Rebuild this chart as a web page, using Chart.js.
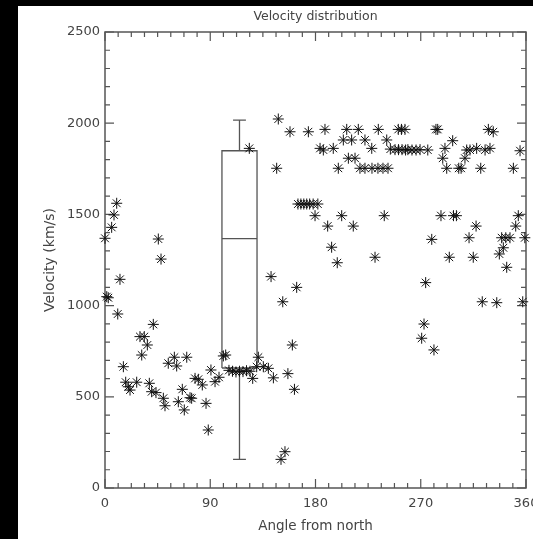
<!DOCTYPE html>
<html>
<head>
<meta charset="utf-8">
<script src="https://cdn.jsdelivr.net/npm/chart.js@4.4.1/dist/chart.umd.min.js"></script>
<style>
  html, body { margin: 0; padding: 0; background: #000; }
  #wrap { position: absolute; left: 18px; top: 6px; width: 515px; height: 533px; background: #fff; }
</style>
</head>
<body>
<div id="wrap"><canvas id="chart" width="515" height="533"></canvas></div>
<script>
// angle from north (deg) and velocity (km/s) for each event
const angles = [
  0, 1.5, 2.8, 5.7, 7.7, 10.0, 10.9, 12.8, 15.7, 17.7, 19.9, 21.4, 27.1, 29.9, 31.4, 33.6,
  36.2, 37.9, 39.9, 41.3, 43.6, 45.6, 47.9, 49.9, 51.3, 54.1, 59.3, 61.3, 62.7, 66.1, 67.8,
  69.9, 72.7, 74.1, 77.0, 79.8, 83.2, 86.4, 88.3, 90.6, 94.1, 97.5, 101.2, 103.2, 106, 109,
  112, 115, 118, 121, 124, 123.4, 126.3, 129.7, 131.1, 135.4, 139.7, 142.0, 144.0, 146.8,
  148.2, 150.5, 152.0, 153.9, 156.4, 158.2, 160.2, 162.0, 163.9, 165, 167.5, 170, 172.5,
  175, 178, 182, 173.9, 179.6, 183.9, 186.7, 188.1, 190.4, 193.8, 195.2, 198.6, 199.5,
  202.4, 203.8, 206.7, 208.1, 210.9, 212.3, 213.8, 216.6, 218, 222.3, 228.3, 233.4, 237.7,
  242, 222.3, 228.1, 230.9, 233.7, 238.8, 240.9, 244, 248, 251, 254, 257, 259, 262.5, 266,
  269.4, 276, 250.8, 253.5, 256.5, 270.8, 272.8, 274.2, 279.4, 281.3, 283, 284.5, 287.3,
  288.8, 290.7, 292.2, 294.4, 297.3, 298, 300.5, 302.5, 304.5, 307.8, 309.3, 311.3, 312.1,
  314.9, 317.3, 317.8, 321.3, 322.6, 325, 327.8, 329.2, 332, 335, 337.2, 339.2, 340.6,
  342.7, 346.3, 343.5, 349.2, 351.2, 353.4, 354.9, 357.2, 359
];
const velocities = [
  1369, 1049, 1043, 1429, 1497, 1561, 954, 1144, 665, 580, 555, 537, 580, 830, 729, 830,
  784, 574, 528, 897, 523, 1365, 1255, 492, 451, 684, 717, 669, 473, 541, 428,
  717, 495, 492, 601, 596, 565, 464, 318, 647, 583, 607, 724, 729, 645, 640,
  636, 640, 638, 643, 640, 1862, 601, 665, 717, 665, 656, 1159, 604, 1753,
  2023, 157, 1021, 199, 627, 1953, 784, 541, 1100, 1557, 1557, 1557, 1557,
  1557, 1557, 1557, 1953, 1493, 1862, 1853, 1966, 1436, 1320, 1862, 1235, 1753,
  1493, 1908, 1966, 1808, 1908, 1436, 1808, 1966, 1753, 1753, 1753, 1753, 1753,
  1753, 1908, 1862, 1265, 1966, 1493, 1908, 1858, 1855, 1855, 1855, 1853, 1855, 1853, 1853,
  1855, 1853, 1966, 1966, 1966, 821, 899, 1126, 1363, 757, 1966, 1966, 1493,
  1808, 1862, 1753, 1265, 1904, 1493, 1493, 1753, 1753, 1808, 1853, 1372, 1853,
  1265, 1436, 1862, 1753, 1021, 1853, 1966, 1862, 1953, 1016, 1283, 1372, 1317,
  1372, 1372, 1210, 1753, 1436, 1493, 1849, 1021, 1372
];

// box-and-whisker summary: min, lower quartile, median, upper quartile, max
const boxStats = [157, 658, 1367, 1849, 2017];
const boxCenter = 115;
const boxHalf = 15;
const capHalf = 5.5;

const xTicks = [0, 90, 180, 270, 360];
const yTicks = [0, 500, 1000, 1500, 2000, 2500];
const titleText = "Velocity distribution";

const axisColor = "#555";
const textColor = "#444";
const fontFamily = "'DejaVu Sans', sans-serif";

const [vMin, q1, med, q3, vMax] = boxStats;
const xl = boxCenter - boxHalf, xr = boxCenter + boxHalf;

function boxLine(points) {
  return {
    type: "scatter",
    data: points.map(p => ({ x: p[0], y: p[1] })),
    showLine: true,
    borderColor: axisColor,
    borderWidth: 1.3,
    pointRadius: 0,
    fill: false,
    order: 1,
  };
}

const stars = angles.map((a, i) => ({ x: a, y: velocities[i] }));

// frame, inward ticks on all four sides, and the title centred over the plot
const frameTicks = {
  id: "frameTicks",
  beforeDatasetsDraw(chart) {
    const { ctx, chartArea: a, scales: { x, y } } = chart;
    ctx.save();
    ctx.strokeStyle = axisColor;
    ctx.lineWidth = 1.5;
    ctx.strokeRect(a.left, a.top, a.right - a.left, a.bottom - a.top);
    ctx.lineWidth = 1.2;
    ctx.beginPath();
    for (let i = 0; i <= 32; i++) {
      const px = x.getPixelForValue(i * 11.25);
      const len = i % 8 === 0 ? 9 : 5;
      ctx.moveTo(px, a.bottom); ctx.lineTo(px, a.bottom - len);
      ctx.moveTo(px, a.top); ctx.lineTo(px, a.top + len);
    }
    for (let i = 0; i <= 25; i++) {
      const py = y.getPixelForValue(i * 100);
      const len = i % 5 === 0 ? 9 : 5;
      ctx.moveTo(a.left, py); ctx.lineTo(a.left + len, py);
      ctx.moveTo(a.right, py); ctx.lineTo(a.right - len, py);
    }
    ctx.stroke();

    ctx.fillStyle = textColor;
    ctx.font = "12.5px " + fontFamily;
    ctx.textAlign = "center";
    ctx.textBaseline = "middle";
    ctx.fillText(titleText, (a.left + a.right) / 2, 11);
    ctx.restore();
  },
};

function fixBox(size, horizontal) {
  return function (s) {
    if (horizontal) s.height = size; else s.width = size;
    s.paddingLeft = 0; s.paddingRight = 0; s.paddingTop = 0; s.paddingBottom = 0;
  };
}

new Chart(document.getElementById("chart"), {
  type: "scatter",
  data: {
    datasets: [
      {
        data: stars,
        pointStyle: "star",
        pointRadius: 5.5,
        pointBorderWidth: 1,
        borderColor: "#111",
        backgroundColor: "#111",
        clip: false,
        order: 0,
      },
      boxLine([[xl, q1], [xl, q3], [xr, q3], [xr, q1], [xl, q1]]),
      boxLine([[xl, med], [xr, med]]),
      boxLine([[boxCenter, q3], [boxCenter, vMax], [boxCenter - capHalf, vMax], [boxCenter + capHalf, vMax]]),
      boxLine([[boxCenter, q1], [boxCenter, vMin], [boxCenter - capHalf, vMin], [boxCenter + capHalf, vMin]]),
    ],
  },
  options: {
    responsive: false,
    animation: false,
    devicePixelRatio: 1,
    layout: { padding: { top: 26, right: 7, left: 0, bottom: 0 } },
    plugins: {
      legend: { display: false },
      tooltip: { enabled: false },
      title: { display: false },
    },
    scales: {
      x: {
        type: "linear",
        min: 0,
        max: 360,
        afterFit: fixBox(51, true),
        afterBuildTicks: s => { s.ticks = xTicks.map(v => ({ value: v })); },
        grid: { display: false, drawTicks: false },
        border: { display: false },
        ticks: {
          color: textColor,
          font: { family: fontFamily, size: 13 },
          padding: 8,
          maxRotation: 0,
          callback: v => String(v),
        },
        title: {
          display: true,
          text: "Angle from north",
          color: textColor,
          font: { family: fontFamily, size: 13.5 },
          padding: { top: 15 },
        },
      },
      y: {
        type: "linear",
        min: 0,
        max: 2500,
        afterFit: fixBox(87, false),
        afterBuildTicks: s => { s.ticks = yTicks.map(v => ({ value: v })); },
        grid: { display: false, drawTicks: false },
        border: { display: false },
        ticks: {
          color: textColor,
          font: { family: fontFamily, size: 13 },
          padding: 5,
          callback: v => String(v),
        },
        title: {
          display: true,
          text: "Velocity (km/s)",
          color: textColor,
          font: { family: fontFamily, size: 14 },
          padding: { top: 24 },
        },
      },
    },
  },
  plugins: [frameTicks],
});
</script>
</body>
</html>
